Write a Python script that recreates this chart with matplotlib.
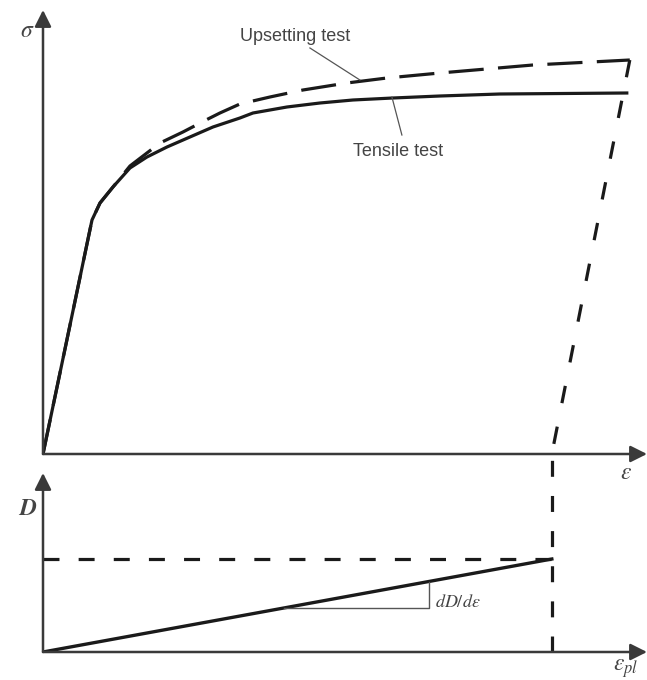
import matplotlib
matplotlib.use("Agg")
from matplotlib import pyplot as plt

plt.rcParams['mathtext.fontset'] = 'stix'

# strain axis: fracture strain = 1.0
tensile_eps = [0.0, 0.0963, 0.112, 0.1375, 0.1709, 0.2043, 0.2436, 0.2888, 0.334,
               0.387, 0.4126, 0.4794, 0.5442, 0.609, 0.6876, 0.78, 0.8978, 1.1473]
tensile_sig = [0.0, 0.585, 0.6275, 0.6675, 0.715, 0.7425, 0.7675, 0.7925, 0.8175,
               0.84, 0.8525, 0.8675, 0.8775, 0.885, 0.89, 0.895, 0.90, 0.9025]

upset_eps = [0.0, 0.0963, 0.112, 0.1375, 0.1709, 0.2299, 0.275, 0.3242, 0.3477,
             0.387, 0.446, 0.5108, 0.5972, 0.6758, 0.78, 0.9627, 1.1532]
upset_sig = [0.0, 0.585, 0.6275, 0.6675, 0.72, 0.7775, 0.805, 0.8375, 0.8525,
             0.875, 0.8925, 0.91, 0.9275, 0.94, 0.9525, 0.9725, 0.985]

fracture_eps = [1.1532, 1.0]
fracture_sig = [0.985, 0.0]

damage_eps = [0.0, 1.0]
damage_D = [0.0, 1.0]
D_crit = 1.0

slope_eps = [0.4735, 0.758, 0.758]
slope_D = [0.473, 0.473, 0.758]

AX_COL = "#3a3a3a"
LINE_COL = "#1a1a1a"
TXT_COL = "#444444"

W, H = 647, 680
fig = plt.figure(figsize=(W/100, H/100), dpi=100)

def px_rect(x0, y_bottom, x1, y_top):
    return [x0/W, 1 - y_bottom/H, (x1-x0)/W, (y_bottom-y_top)/H]

def draw_arrows(ax):
    for xy in [(1, 0), (0, 1)]:
        ax.annotate("", xy=xy, xytext=(0, 0), xycoords="axes fraction",
                    arrowprops=dict(arrowstyle="-|>,head_length=0.5,head_width=0.25",
                                    mutation_scale=20, lw=1.8, color=AX_COL,
                                    shrinkA=0, shrinkB=0))
    ax.axis("off")

# top: stress-strain
ax = fig.add_axes(px_rect(43, 454, 647, 10))
ax.set_xlim(0, 1.187)
ax.set_ylim(0, 1.11)
draw_arrows(ax)

ax.plot(tensile_eps, tensile_sig, color=LINE_COL, lw=2.3, solid_joinstyle="round")
ax.plot(upset_eps, upset_sig, color=LINE_COL, lw=2.3, dashes=(11, 4.5))
ax.plot(fracture_eps, fracture_sig, color=LINE_COL, lw=2.3, dashes=(5.5, 7.5))

ax.plot([0.5246, 0.6228], [1.015, 0.935], color="#555555", lw=0.9)
ax.plot([0.7053, 0.6857], [0.7975, 0.8925], color="#555555", lw=0.9)
ax.text(0.495, 1.043, "Upsetting test", family="Liberation Sans", fontsize=13,
        color=TXT_COL, ha="center", va="center")
ax.text(0.697, 0.755, "Tensile test", family="Liberation Sans", fontsize=13,
        color=TXT_COL, ha="center", va="center")
ax.text(-0.03, 1.06, r"$\sigma$", fontsize=17, color=TXT_COL, ha="center", va="center")
ax.text(1.145, -0.045, r"$\varepsilon$", fontsize=17, color=TXT_COL, ha="center", va="center")

# bottom: damage
ax2 = fig.add_axes(px_rect(43, 652, 647, 473))
ax2.set_xlim(0, 1.187)
ax2.set_ylim(0, 1.925)
draw_arrows(ax2)

ax2.plot(damage_eps, damage_D, color=LINE_COL, lw=2.4)
ax2.plot([0, 1.0], [D_crit, D_crit], color=LINE_COL, lw=2.3, dashes=(5, 6))
ax2.plot([1.0, 1.0], [0, 2.06], color=LINE_COL, lw=2.3, dashes=(5, 6), clip_on=False)
ax2.plot(slope_eps, slope_D, color="#555555", lw=1.0)
ax2.text(0.77, 0.54, r"$dD/d\varepsilon$", fontsize=13, color=TXT_COL, ha="left", va="center")
ax2.text(-0.03, 1.55, r"$\boldsymbol{D}$", fontsize=17, color=TXT_COL, ha="center", va="center")
ax2.text(1.145, -0.17, r"$\varepsilon_{pl}$", fontsize=17, color=TXT_COL, ha="center", va="center")

fig.savefig("out.png", dpi=100)
